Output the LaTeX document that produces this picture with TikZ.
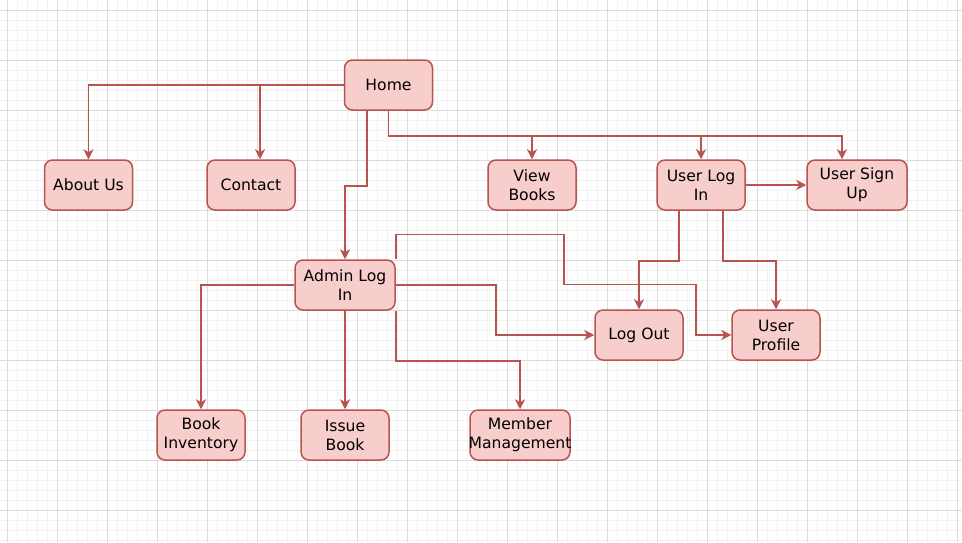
\documentclass[tikz,border=0pt]{standalone}
\usepackage{fontspec}
\setmainfont{DejaVu Sans}
\usepackage{xcolor}
\definecolor{rojofondo}{HTML}{F8CECC}
\definecolor{rojoborde}{HTML}{B85450}
\definecolor{rejillaclara}{HTML}{F1F1F1}
\definecolor{rejillaoscura}{HTML}{DCDCDC}
\usepackage{tikz}
\usetikzlibrary{arrows.meta, positioning}

\tikzset{
    caja/.style={draw=rojoborde, fill=rojofondo, rounded corners=4pt, line width=0.75pt,
        minimum width=44pt, minimum height=25pt, inner sep=1pt, align=center,
        font=\fontsize{7.8}{9.5}\selectfont},
    cajaancha/.style={caja, minimum width=50pt},
    flecha/.style={draw=rojoborde, line width=0.75pt, -{Stealth[length=5pt,width=5pt,inset=1.5pt]}},
    rejilla/.style={draw=rejillaclara, line width=0.5pt},
    rejillamayor/.style={draw=rejillaoscura, line width=0.5pt}
}

\begin{document}
\begin{tikzpicture}[x=0.5pt, y=-0.5pt]
        \useasboundingbox (0,0) rectangle (962,542);
        % Fondo cuadriculado
        \fill[white] (0,0) rectangle (962,542);
        \foreach \x in {7,17,...,957} {
            \draw[rejilla] (\x,0) -- (\x,542);
        }
        \foreach \y in {10,20,...,540} {
            \draw[rejilla] (0,\y) -- (962,\y);
        }
        \foreach \x in {7,57,...,957} {
            \draw[rejillamayor] (\x,0) -- (\x,542);
        }
        \foreach \y in {10,60,...,510} {
            \draw[rejillamayor] (0,\y) -- (962,\y);
        }
        % Cajas
        \node[caja] (home) at (388.5,85) {Home};
        \node[caja] (about) at (88.5,185) {About Us};
        \node[caja] (contact) at (251,185) {Contact};
        \node[caja] (view) at (532,185) {View\\Books};
        \node[caja] (userlog) at (701,185) {User Log\\In};
        \node[cajaancha] (signup) at (857,185) {User Sign\\Up};
        \node[cajaancha] (admin) at (345,285) {Admin Log\\In};
        \node[caja] (logout) at (639,335) {Log Out};
        \node[caja] (profile) at (776,335) {User\\Profile};
        \node[caja] (inventory) at (201,435) {Book\\Inventory};
        \node[caja] (issue) at (345,435) {Issue\\Book};
        \node[cajaancha] (member) at (520,435) {Member\\\makebox[0pt]{Management}};
        % Conexiones desde Home
        \draw[flecha] (home.west) -| (about.north);
        \draw[flecha] (home.west) -| ([xshift=4.5pt]contact.north);
        \draw[flecha] ([xshift=-10.75pt]home.south) -- ++(0,75) -| (admin.north);
        \draw[flecha] (home.south) -- ++(0,25) -| (view.north);
        \draw[flecha] (home.south) -- ++(0,25) -| (userlog.north);
        \draw[flecha] (home.south) -- ++(0,25) -| ([xshift=-7.5pt]signup.north);
        % Conexiones del usuario
        \draw[flecha] (userlog.east) -- (signup.west);
        \draw[flecha] ([xshift=-11pt]userlog.south) -- ++(0,50) -| (logout.north);
        \draw[flecha] ([xshift=11pt]userlog.south) -- ++(0,50) -| (profile.north);
        % Conexiones del administrador
        \draw[flecha] (admin.east) -- ++(100,0) |- (logout.west);
        \draw[flecha] (admin.north east) -- ++(0,-25) -- ++(168,0) -- ++(0,50) -- ++(132,0) |- (profile.west);
        \draw[flecha] (admin.south east) -- ++(0,50) -| (member.north);
        \draw[flecha] (admin.west) -| (inventory.north);
        \draw[flecha] (admin.south) -- (issue.north);
    \end{tikzpicture}
\end{document}
